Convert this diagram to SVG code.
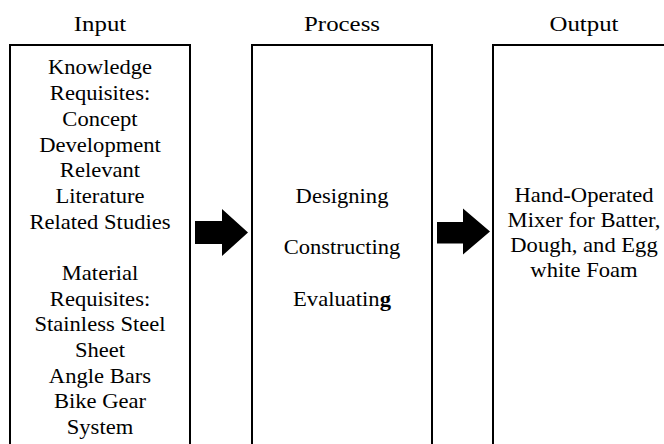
<svg xmlns="http://www.w3.org/2000/svg" width="664" height="444" viewBox="0 0 664 444">
  <style>
    .box { fill: #fff; stroke: #000; stroke-width: 2; }
    .head { font-family: "Liberation Serif", "Times New Roman", serif; font-size: 22px; fill: #000; text-anchor: middle; }
    .body { font-family: "Liberation Serif", "Times New Roman", serif; font-size: 20px; fill: #000; text-anchor: middle; }
    .arrow { fill: #000; }
  </style>
  <rect width="664" height="444" fill="#fff"/>

  <!-- Input column -->
  <g id="input">
    <rect class="box" x="10" y="45" width="180" height="410"/>
    <g transform="translate(100 0) scale(1.13 1)">
      <text class="head" x="0" y="31.5">Input</text>
      <text class="body" x="0" y="74.5">Knowledge</text>
      <text class="body" x="0" y="100.2">Requisites:</text>
      <text class="body" x="0" y="125.9">Concept</text>
      <text class="body" x="0" y="151.6">Development</text>
      <text class="body" x="0" y="177.3">Relevant</text>
      <text class="body" x="0" y="203">Literature</text>
      <text class="body" x="0" y="228.7">Related Studies</text>
      <text class="body" x="0" y="280">Material</text>
      <text class="body" x="0" y="305.7">Requisites:</text>
      <text class="body" x="0" y="331.4">Stainless Steel</text>
      <text class="body" x="0" y="357.1">Sheet</text>
      <text class="body" x="0" y="382.8">Angle Bars</text>
      <text class="body" x="0" y="408.5">Bike Gear</text>
      <text class="body" x="0" y="434.2">System</text>
    </g>
  </g>

  <!-- Process column -->
  <g id="process">
    <rect class="box" x="252" y="45" width="180" height="410"/>
    <g transform="translate(342 0) scale(1.13 1)">
      <text class="head" x="0" y="31.5">Process</text>
      <text class="body" x="0" y="203">Designing</text>
      <text class="body" x="0" y="254.5">Constructing</text>
      <text class="body" x="0" y="306">Evaluatin<tspan font-weight="bold">g</tspan></text>
    </g>
  </g>

  <!-- Output column -->
  <g id="output">
    <rect class="box" x="493" y="45" width="182" height="410"/>
    <g transform="translate(584 0) scale(1.13 1)">
      <text class="head" x="0" y="31.5">Output</text>
      <text class="body" x="0" y="201.7">Hand-Operated</text>
      <text class="body" x="0" y="226.7">Mixer for Batter,</text>
      <text class="body" x="0" y="251.7">Dough, and Egg</text>
      <text class="body" x="0" y="276.7">white Foam</text>
    </g>
  </g>

  <!-- Block arrows between columns -->
  <g id="connectors">
    <polygon class="arrow" points="195,221 222,221 222,209 248,232.5 222,256 222,244 195,244"/>
    <polygon class="arrow" points="437,222 463,222 463,208.5 490,231.5 463,254.5 463,243.5 437,243.5"/>
  </g>
</svg>
